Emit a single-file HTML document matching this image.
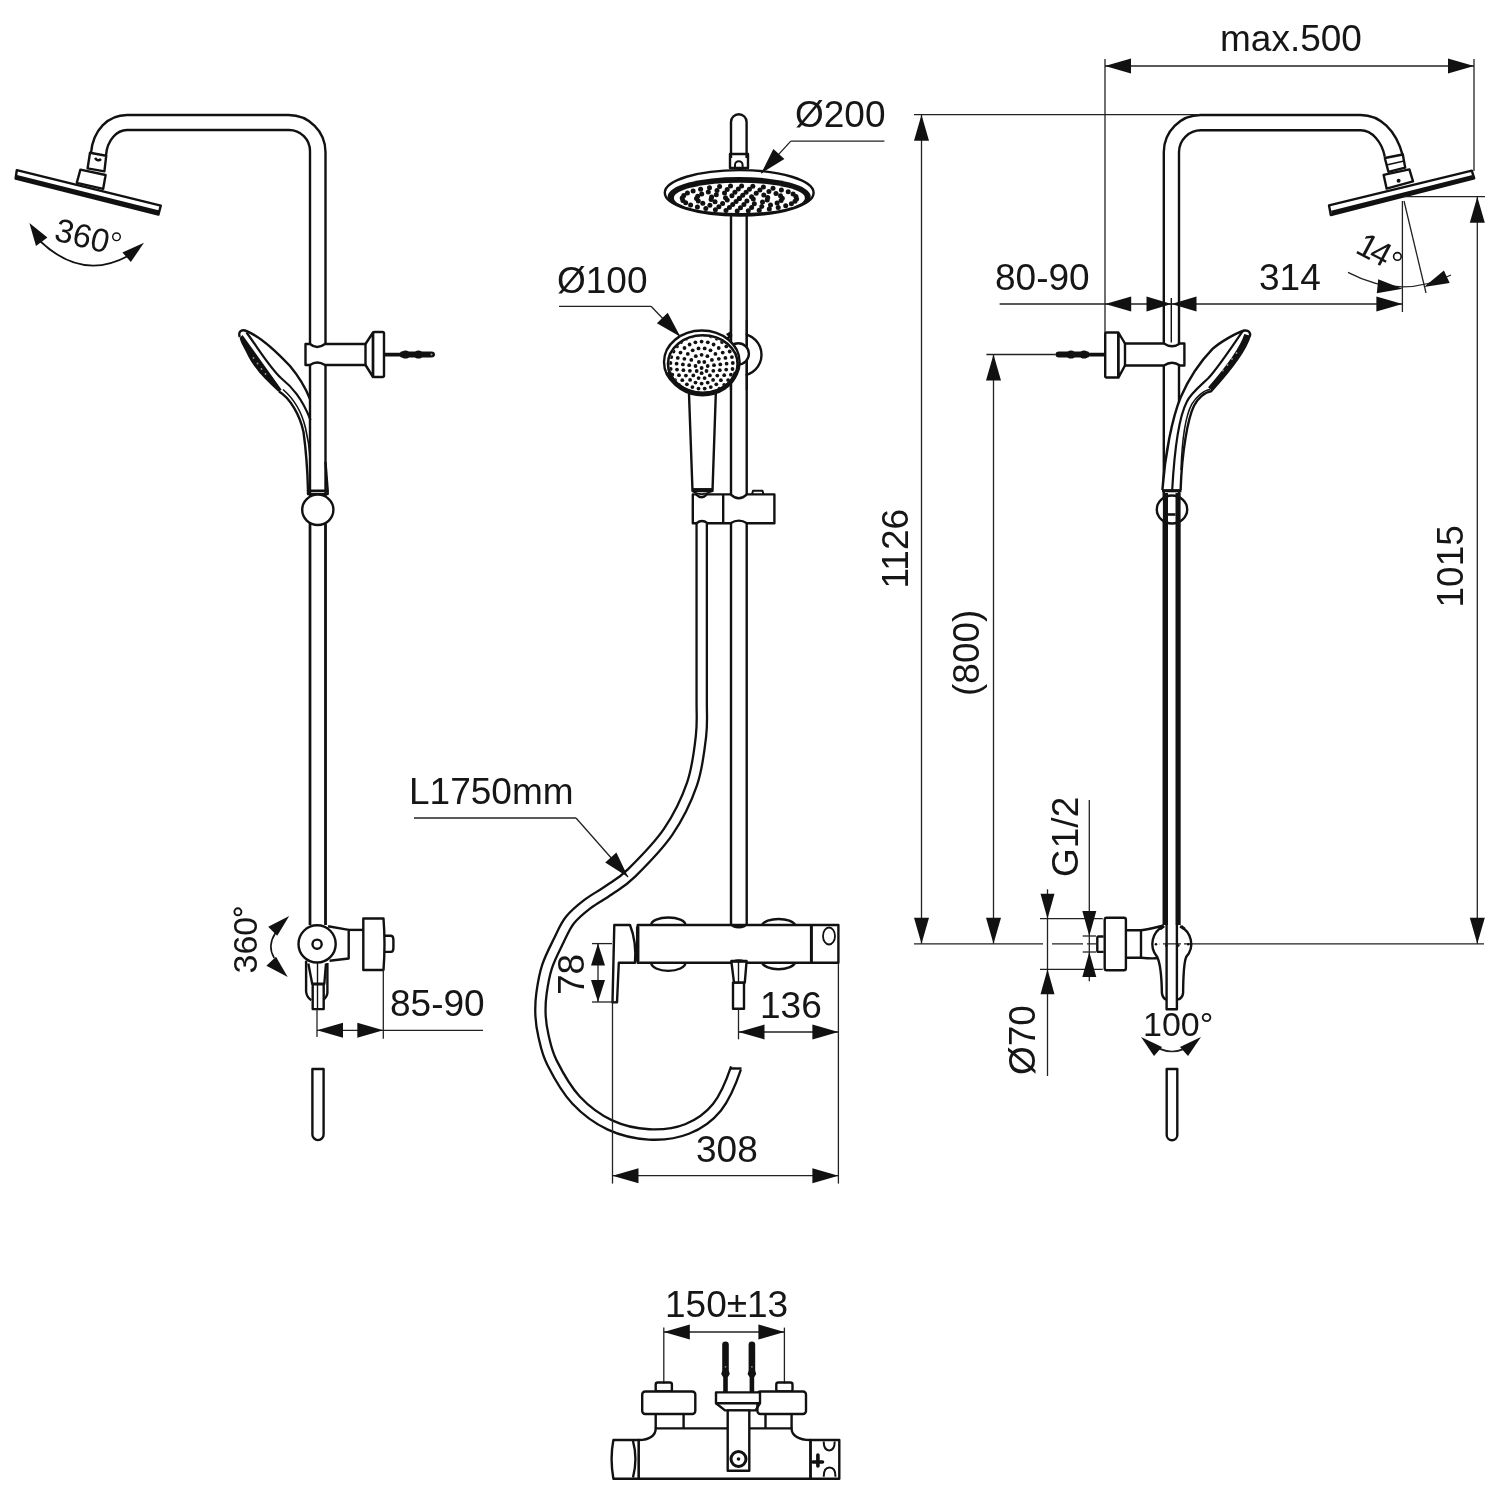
<!DOCTYPE html>
<html><head><meta charset="utf-8"><style>
html,body{margin:0;padding:0;background:#fff;}
svg{display:block;will-change:transform;}
text{font-family:"Liberation Sans",sans-serif;fill:#161616;}
.m{fill:none;stroke:#111;stroke-width:2.4;stroke-linejoin:round;}
.d{fill:none;stroke:#222;stroke-width:1.3;}
.t{fill:none;stroke:#111;stroke-width:1.4;}
.f{fill:#111;stroke:none;}
</style></head><body>
<svg width="1500" height="1500" viewBox="0 0 1500 1500">
<rect width="1500" height="1500" fill="#fff"/>
<path class="m" d="M325.5 925V152A37 37 0 0 0 288.5 115H127C108 115 93 130 91 153"/>
<path class="m" d="M310 925V151A21 21 0 0 0 289 130H127C117 130 107 140 106 155.5"/>
<path class="m" d="M90 152.8L106.2 155.8L104.4 171.4L87.6 168.4Z"/>
<path class="t" d="M95 158Q98 162 101 159" style="stroke-width:2.5"/>
<path class="m" d="M80.4 169.6L105.6 175L103.2 188.8L76.8 182.8Z"/>
<path class="m" d="M16.8 170.2L160.8 205.6L158.4 214.6L15.6 178.6Z" style="fill:#fff"/>
<path class="m" d="M16.5 177L159 212.5" style="stroke-width:4"/>
<text x="53" y="240" font-size="33" transform="rotate(14 53 240)">360</text>
<circle class="t" cx="116.5" cy="236.8" r="3.8"/>
<path class="m" d="M40 241Q82 281 128 256" style="stroke-width:1.8"/>
<path class="f" d="M29.4 223L36 246L47.4 237.4Z"/>
<path class="f" d="M144 242.8L122.4 252.4L130.8 262Z"/>
<path class="f" d="M242.5 335L281.5 389.5L279 392C275 389 266 380 259.3 372.7C254 366 250 361 246 352C243 346 240 341 239.7 337.7Z"/>
<circle cx="253.5" cy="358" r="0.9" fill="#999"/>
<circle cx="257.5" cy="363.5" r="0.9" fill="#999"/>
<circle cx="261.5" cy="369" r="0.9" fill="#999"/>
<circle cx="265.5" cy="374" r="0.9" fill="#999"/>
<path class="m" d="M239.8 337C238 332 241 329.5 245 330.5C258 335 275 350 290 366C300 378 306 389 310 399"/>
<path class="m" d="M246.5 332.5C258 348 270 368 281 378C292 387 302 398 310.5 420" style="stroke-width:2.2"/>
<path class="m" d="M279 391.5C290 398 300 415 303.5 432C306 450 307.5 470 308 491"/>
<path class="t" d="M283 389.5C294 399 302 413 305.5 428C308 438 309.5 447 310.2 460" style="stroke-width:1.6"/>
<path class="m" d="M325.5 462L327.7 490.5"/>
<path class="m" d="M308 490.8H327.7V494H308Z"/>
<ellipse class="m" cx="317.8" cy="509.8" rx="15.6" ry="15.2" style="fill:#fff"/>
<path class="m" d="M310 524.5V925M325.5 524.5V925"/>
<path class="m" d="M305.5 344H310Q317 350 325 344H365.5V365H325Q317 360 310 365H305.5Z" style="fill:#fff"/>
<path class="m" d="M365.5 344L373 332.5V377L365.5 365"/>
<rect class="m" x="373" y="332" width="11" height="45" rx="1.5"/>
<path class="f" d="M384 352.8H400L401 351.6H431.5Q435 351.6 435 354.6Q435 357.6 431.5 357.6H401L400 356.4H384Z"/>
<ellipse class="f" cx="405.5" cy="354.6" rx="4.5" ry="4"/><ellipse class="f" cx="418.5" cy="354.6" rx="4.5" ry="4"/>
<circle cx="431.5" cy="354.6" r="1" fill="#999"/>
<path class="m" d="M328.1 926.3L348.7 929.9V958.5L329.6 960.7"/>
<path class="m" d="M348.7 929.9H363.3"/>
<path class="m" d="M363.3 918.5H383.5Q385.5 944 383.5 970H363.3Z"/>
<path class="m" d="M384.6 935.8H391Q393.4 936 393.4 940V948Q393.4 951.9 391 951.9H384.6"/>
<path class="m" d="M306.1 960.7V991.5Q306.5 997 311.3 1000.3M327.4 962.9V993Q327 997 323.7 999.6"/>
<path class="m" d="M308.3 963.5L312.2 983.8H324.3L326 963.5"/>
<rect class="m" x="312.7" y="984.2" width="11" height="24.9"/>
<path class="t" d="M317.5 963V1009"/>
<circle class="m" cx="317.1" cy="943.9" r="18.6" style="fill:#fff"/>
<circle class="m" cx="317.1" cy="944.2" r="4.6"/>
<text x="256.5" y="973.5" font-size="34" text-anchor="start" transform="rotate(-90 256.5 973.5)">360</text>
<circle cx="237.9" cy="911.8" r="3.5" style="fill:none;stroke:#111;stroke-width:1.9"/>
<path class="m" d="M275.4 933Q267 946 274.2 958" style="stroke-width:1.6"/>
<path class="f" d="M289.2 916L268.2 926.8L277.2 935.8Z"/>
<path class="f" d="M287.7 976.9L266.4 965.8L276 956.8Z"/>
<path d="M317 1008.8L317 1037" class="d"/>
<path d="M383.3 969.6L383.3 1038.7" class="d"/>
<path d="M317 1030.3L483 1030.3" class="d"/>
<path d="M317.0 1030.3L343.0 1022.8L343.0 1037.8Z" class="f"/>
<path d="M383.3 1030.3L357.3 1037.8L357.3 1022.8Z" class="f"/>
<text x="390" y="1015.5" font-size="37" text-anchor="start">85-90</text>
<path class="m" d="M312.4 1069H323.6V1134.5A5.6 5.6 0 0 1 312.4 1134.5Z"/>
<path class="m" d="M731 158V122A7.8 7.8 0 0 1 746.6 122V158"/>
<rect class="m" x="730" y="154" width="18" height="14"/>
<path class="m" d="M735 168V165A3.8 3.8 0 0 1 742.6 165V168" style="stroke-width:2"/>
<ellipse class="m" cx="739.2" cy="192.8" rx="74.4" ry="22.7" style="fill:#fff"/>
<ellipse class="f" cx="739.2" cy="196.3" rx="71.5" ry="19.4"/>
<ellipse cx="739.4" cy="197.9" rx="65.5" ry="15.2" fill="#fff"/>
<circle class="f" cx="739.4" cy="198.4" r="2.6"/>
<circle class="f" cx="753.3" cy="199.1" r="2.5"/>
<circle class="f" cx="746.9" cy="201.1" r="2.5"/>
<circle class="f" cx="736.1" cy="201.5" r="2.5"/>
<circle class="f" cx="727.2" cy="200.0" r="2.5"/>
<circle class="f" cx="725.5" cy="197.7" r="2.5"/>
<circle class="f" cx="731.9" cy="195.7" r="2.5"/>
<circle class="f" cx="742.7" cy="195.3" r="2.5"/>
<circle class="f" cx="751.6" cy="196.8" r="2.5"/>
<circle class="f" cx="767.2" cy="199.9" r="2.5"/>
<circle class="f" cx="762.5" cy="202.1" r="2.5"/>
<circle class="f" cx="754.3" cy="203.8" r="2.5"/>
<circle class="f" cx="743.9" cy="204.6" r="2.5"/>
<circle class="f" cx="732.7" cy="204.5" r="2.5"/>
<circle class="f" cx="722.6" cy="203.5" r="2.5"/>
<circle class="f" cx="715.0" cy="201.7" r="2.5"/>
<circle class="f" cx="711.1" cy="199.4" r="2.5"/>
<circle class="f" cx="711.6" cy="196.9" r="2.5"/>
<circle class="f" cx="716.3" cy="194.7" r="2.5"/>
<circle class="f" cx="724.5" cy="193.0" r="2.5"/>
<circle class="f" cx="734.9" cy="192.2" r="2.5"/>
<circle class="f" cx="746.1" cy="192.3" r="2.5"/>
<circle class="f" cx="756.2" cy="193.3" r="2.5"/>
<circle class="f" cx="763.8" cy="195.1" r="2.5"/>
<circle class="f" cx="767.7" cy="197.4" r="2.5"/>
<circle class="f" cx="781.1" cy="200.6" r="2.5"/>
<circle class="f" cx="777.1" cy="202.9" r="2.5"/>
<circle class="f" cx="770.5" cy="204.9" r="2.5"/>
<circle class="f" cx="761.8" cy="206.4" r="2.5"/>
<circle class="f" cx="751.6" cy="207.4" r="2.5"/>
<circle class="f" cx="740.5" cy="207.8" r="2.5"/>
<circle class="f" cx="729.4" cy="207.6" r="2.5"/>
<circle class="f" cx="718.9" cy="206.7" r="2.5"/>
<circle class="f" cx="709.9" cy="205.2" r="2.5"/>
<circle class="f" cx="702.8" cy="203.3" r="2.5"/>
<circle class="f" cx="698.3" cy="201.1" r="2.5"/>
<circle class="f" cx="696.5" cy="198.6" r="2.5"/>
<circle class="f" cx="697.7" cy="196.2" r="2.5"/>
<circle class="f" cx="701.7" cy="193.9" r="2.5"/>
<circle class="f" cx="708.3" cy="191.9" r="2.5"/>
<circle class="f" cx="717.0" cy="190.4" r="2.5"/>
<circle class="f" cx="727.2" cy="189.4" r="2.5"/>
<circle class="f" cx="738.3" cy="189.0" r="2.5"/>
<circle class="f" cx="749.4" cy="189.2" r="2.5"/>
<circle class="f" cx="759.9" cy="190.1" r="2.5"/>
<circle class="f" cx="768.9" cy="191.6" r="2.5"/>
<circle class="f" cx="776.0" cy="193.5" r="2.5"/>
<circle class="f" cx="780.5" cy="195.7" r="2.5"/>
<circle class="f" cx="782.3" cy="198.2" r="2.5"/>
<circle class="f" cx="795.0" cy="201.3" r="2.5"/>
<circle class="f" cx="791.4" cy="203.7" r="2.5"/>
<circle class="f" cx="785.7" cy="205.8" r="2.5"/>
<circle class="f" cx="778.2" cy="207.6" r="2.5"/>
<circle class="f" cx="769.3" cy="209.1" r="2.5"/>
<circle class="f" cx="759.2" cy="210.2" r="2.5"/>
<circle class="f" cx="748.3" cy="210.8" r="2.5"/>
<circle class="f" cx="737.2" cy="210.9" r="2.5"/>
<circle class="f" cx="726.0" cy="210.6" r="2.5"/>
<circle class="f" cx="715.4" cy="209.8" r="2.5"/>
<circle class="f" cx="705.8" cy="208.6" r="2.5"/>
<circle class="f" cx="697.4" cy="206.9" r="2.5"/>
<circle class="f" cx="690.6" cy="205.0" r="2.5"/>
<circle class="f" cx="685.7" cy="202.7" r="2.5"/>
<circle class="f" cx="682.9" cy="200.4" r="2.5"/>
<circle class="f" cx="682.2" cy="197.9" r="2.5"/>
<circle class="f" cx="683.8" cy="195.5" r="2.5"/>
<circle class="f" cx="687.4" cy="193.1" r="2.5"/>
<circle class="f" cx="693.1" cy="191.0" r="2.5"/>
<circle class="f" cx="700.6" cy="189.2" r="2.5"/>
<circle class="f" cx="709.5" cy="187.7" r="2.5"/>
<circle class="f" cx="719.6" cy="186.6" r="2.5"/>
<circle class="f" cx="730.5" cy="186.0" r="2.5"/>
<circle class="f" cx="741.6" cy="185.9" r="2.5"/>
<circle class="f" cx="752.8" cy="186.2" r="2.5"/>
<circle class="f" cx="763.4" cy="187.0" r="2.5"/>
<circle class="f" cx="773.0" cy="188.2" r="2.5"/>
<circle class="f" cx="781.4" cy="189.9" r="2.5"/>
<circle class="f" cx="788.2" cy="191.8" r="2.5"/>
<circle class="f" cx="793.1" cy="194.1" r="2.5"/>
<circle class="f" cx="795.9" cy="196.4" r="2.5"/>
<circle class="f" cx="796.6" cy="198.9" r="2.5"/>
<path class="m" d="M731 214.5V926M746.7 214.5V926"/>
<circle class="m" cx="740.5" cy="354.7" r="21"/>
<rect x="732.2" y="320" width="13.3" height="70" fill="#fff"/>
<path class="m" d="M731 320V390M746.7 320V390"/>
<circle class="m" cx="738.3" cy="353.8" r="10.6" style="fill:#fff"/>
<path class="f" d="M726 334L731 331V340Z"/>
<path class="m" d="M689 394L692.5 491H712.5L715.8 394" style="fill:#fff"/>
<path d="M692.5 489.8H712.5" style="stroke:#111;stroke-width:3.5"/>
<ellipse class="m" cx="701.8" cy="362" rx="37.8" ry="31.5" style="fill:#fff"/>
<ellipse class="m" cx="702.8" cy="364" rx="34.8" ry="28.8" style="stroke-width:2.6"/>
<path d="M669 372A34.3 28.3 0 0 0 736 372" style="fill:none;stroke:#111;stroke-width:4.5"/>
<defs><clipPath id="hp"><ellipse cx="702.8" cy="364" rx="33.5" ry="27.5"/></clipPath></defs>
<g clip-path="url(#hp)">
<circle class="f" cx="701.6" cy="368" r="1.95"/>
<circle class="f" cx="704.3" cy="362.0" r="1.9"/>
<circle class="f" cx="707.7" cy="366.0" r="1.9"/>
<circle class="f" cx="706.5" cy="371.0" r="1.9"/>
<circle class="f" cx="701.6" cy="373.2" r="1.9"/>
<circle class="f" cx="696.7" cy="371.0" r="1.9"/>
<circle class="f" cx="695.5" cy="366.0" r="1.9"/>
<circle class="f" cx="698.9" cy="362.0" r="1.9"/>
<circle class="f" cx="701.6" cy="354.8" r="1.9"/>
<circle class="f" cx="707.4" cy="356.2" r="1.9"/>
<circle class="f" cx="711.9" cy="359.9" r="1.9"/>
<circle class="f" cx="714.0" cy="365.2" r="1.9"/>
<circle class="f" cx="713.3" cy="370.8" r="1.9"/>
<circle class="f" cx="709.9" cy="375.4" r="1.9"/>
<circle class="f" cx="704.6" cy="378.1" r="1.9"/>
<circle class="f" cx="698.6" cy="378.1" r="1.9"/>
<circle class="f" cx="693.3" cy="375.4" r="1.9"/>
<circle class="f" cx="689.9" cy="370.8" r="1.9"/>
<circle class="f" cx="689.2" cy="365.2" r="1.9"/>
<circle class="f" cx="691.3" cy="359.9" r="1.9"/>
<circle class="f" cx="695.8" cy="356.2" r="1.9"/>
<circle class="f" cx="704.7" cy="348.4" r="1.9"/>
<circle class="f" cx="710.5" cy="350.3" r="1.9"/>
<circle class="f" cx="715.4" cy="353.9" r="1.9"/>
<circle class="f" cx="718.8" cy="358.8" r="1.9"/>
<circle class="f" cx="720.3" cy="364.4" r="1.9"/>
<circle class="f" cx="719.8" cy="370.2" r="1.9"/>
<circle class="f" cx="717.3" cy="375.6" r="1.9"/>
<circle class="f" cx="713.1" cy="379.9" r="1.9"/>
<circle class="f" cx="707.7" cy="382.6" r="1.9"/>
<circle class="f" cx="701.6" cy="383.6" r="1.9"/>
<circle class="f" cx="695.5" cy="382.6" r="1.9"/>
<circle class="f" cx="690.1" cy="379.9" r="1.9"/>
<circle class="f" cx="685.9" cy="375.6" r="1.9"/>
<circle class="f" cx="683.4" cy="370.2" r="1.9"/>
<circle class="f" cx="682.9" cy="364.4" r="1.9"/>
<circle class="f" cx="684.4" cy="358.8" r="1.9"/>
<circle class="f" cx="687.8" cy="353.9" r="1.9"/>
<circle class="f" cx="692.7" cy="350.3" r="1.9"/>
<circle class="f" cx="698.5" cy="348.4" r="1.9"/>
<circle class="f" cx="701.6" cy="341.6" r="1.9"/>
<circle class="f" cx="707.8" cy="342.3" r="1.9"/>
<circle class="f" cx="713.6" cy="344.5" r="1.9"/>
<circle class="f" cx="718.7" cy="348.0" r="1.9"/>
<circle class="f" cx="722.7" cy="352.6" r="1.9"/>
<circle class="f" cx="725.4" cy="357.9" r="1.9"/>
<circle class="f" cx="726.6" cy="363.7" r="1.9"/>
<circle class="f" cx="726.2" cy="369.6" r="1.9"/>
<circle class="f" cx="724.2" cy="375.2" r="1.9"/>
<circle class="f" cx="720.9" cy="380.2" r="1.9"/>
<circle class="f" cx="716.3" cy="384.3" r="1.9"/>
<circle class="f" cx="710.8" cy="387.1" r="1.9"/>
<circle class="f" cx="704.7" cy="388.6" r="1.9"/>
<circle class="f" cx="698.5" cy="388.6" r="1.9"/>
<circle class="f" cx="692.4" cy="387.1" r="1.9"/>
<circle class="f" cx="686.9" cy="384.3" r="1.9"/>
<circle class="f" cx="682.3" cy="380.2" r="1.9"/>
<circle class="f" cx="679.0" cy="375.2" r="1.9"/>
<circle class="f" cx="677.0" cy="369.6" r="1.9"/>
<circle class="f" cx="676.6" cy="363.7" r="1.9"/>
<circle class="f" cx="677.8" cy="357.9" r="1.9"/>
<circle class="f" cx="680.5" cy="352.6" r="1.9"/>
<circle class="f" cx="684.5" cy="348.0" r="1.9"/>
<circle class="f" cx="689.6" cy="344.5" r="1.9"/>
<circle class="f" cx="695.4" cy="342.3" r="1.9"/>
<circle class="f" cx="704.8" cy="335.2" r="1.9"/>
<circle class="f" cx="711.0" cy="336.4" r="1.9"/>
<circle class="f" cx="716.8" cy="338.7" r="1.9"/>
<circle class="f" cx="722.0" cy="342.1" r="1.9"/>
<circle class="f" cx="726.3" cy="346.4" r="1.9"/>
<circle class="f" cx="729.7" cy="351.5" r="1.9"/>
<circle class="f" cx="731.9" cy="357.1" r="1.9"/>
<circle class="f" cx="732.8" cy="363.0" r="1.9"/>
<circle class="f" cx="732.5" cy="369.0" r="1.9"/>
<circle class="f" cx="730.9" cy="374.7" r="1.9"/>
<circle class="f" cx="728.1" cy="380.1" r="1.9"/>
<circle class="f" cx="724.2" cy="384.8" r="1.9"/>
<circle class="f" cx="719.5" cy="388.7" r="1.9"/>
<circle class="f" cx="713.9" cy="391.6" r="1.9"/>
<circle class="f" cx="707.9" cy="393.4" r="1.9"/>
<circle class="f" cx="701.6" cy="394.0" r="1.9"/>
<circle class="f" cx="695.3" cy="393.4" r="1.9"/>
<circle class="f" cx="689.3" cy="391.6" r="1.9"/>
<circle class="f" cx="683.7" cy="388.7" r="1.9"/>
<circle class="f" cx="679.0" cy="384.8" r="1.9"/>
<circle class="f" cx="675.1" cy="380.1" r="1.9"/>
<circle class="f" cx="672.3" cy="374.7" r="1.9"/>
<circle class="f" cx="670.7" cy="369.0" r="1.9"/>
<circle class="f" cx="670.4" cy="363.0" r="1.9"/>
<circle class="f" cx="671.3" cy="357.1" r="1.9"/>
<circle class="f" cx="673.5" cy="351.5" r="1.9"/>
<circle class="f" cx="676.9" cy="346.4" r="1.9"/>
<circle class="f" cx="681.2" cy="342.1" r="1.9"/>
<circle class="f" cx="686.4" cy="338.7" r="1.9"/>
<circle class="f" cx="692.2" cy="336.4" r="1.9"/>
<circle class="f" cx="698.4" cy="335.2" r="1.9"/>
</g>
<path d="M701.7 524V700C701.6 716.0 702.6 722.0 701 736C699.4 750.0 697.5 768.0 692 784C686.5 800.0 678.1 817.2 668 832C657.9 846.8 641.3 863.3 631.5 873C621.7 882.7 616.3 884.8 609 890C601.7 895.2 594.0 899.0 587.5 904C581.0 909.0 574.8 914.0 570 920C565.2 926.0 562.8 932.2 559 940C555.2 947.8 549.9 957.8 547 966.7C544.1 975.6 542.6 985.3 541.5 993.3C540.4 1001.3 540.2 1007.6 540.5 1014.7C540.8 1021.8 541.6 1028.0 543.5 1036C545.4 1044.0 546.6 1052.0 552 1062.7C557.4 1073.4 566.3 1089.6 576 1100C585.7 1110.4 597.8 1119.3 610 1125C622.2 1130.7 636.2 1133.7 649 1134.4C661.8 1135.1 675.7 1133.5 687 1129C698.3 1124.5 708.8 1117.4 717 1107.2C725.2 1097.0 732.2 1079.2 736 1068" style="fill:none;stroke:#111;stroke-width:12.6"/>
<path d="M701.7 524V700C701.6 716.0 702.6 722.0 701 736C699.4 750.0 697.5 768.0 692 784C686.5 800.0 678.1 817.2 668 832C657.9 846.8 641.3 863.3 631.5 873C621.7 882.7 616.3 884.8 609 890C601.7 895.2 594.0 899.0 587.5 904C581.0 909.0 574.8 914.0 570 920C565.2 926.0 562.8 932.2 559 940C555.2 947.8 549.9 957.8 547 966.7C544.1 975.6 542.6 985.3 541.5 993.3C540.4 1001.3 540.2 1007.6 540.5 1014.7C540.8 1021.8 541.6 1028.0 543.5 1036C545.4 1044.0 546.6 1052.0 552 1062.7C557.4 1073.4 566.3 1089.6 576 1100C585.7 1110.4 597.8 1119.3 610 1125C622.2 1130.7 636.2 1133.7 649 1134.4C661.8 1135.1 675.7 1133.5 687 1129C698.3 1124.5 708.8 1117.4 717 1107.2C725.2 1097.0 732.2 1079.2 736 1068" style="fill:none;stroke:#fff;stroke-width:8"/>
<path class="m" d="M731 1068.5H741.5"/>
<path class="m" d="M692.8 494.4H696Q701.5 500 707 494.4H730.5Q738.8 502 747 494.4H774.4V523.2H747Q738.8 518 730.5 523.2H707.5Q702 519 696.5 523.2H692.8Z" style="fill:#fff"/>
<path d="M723.2 494.4L723.2 523.2" class="m"/>
<path class="m" d="M752 494.4L753 490.8H762.5L763.5 494.4" style="stroke-width:2"/>
<path d="M693 491.5Q701.5 497 711 491.5" style="fill:none;stroke:#111;stroke-width:2"/>
<path class="m" d="M651.2 925A17 7.5 0 0 1 685.4 925M761.9 925A17 7.5 0 0 1 795.2 925"/>
<path class="m" d="M651.2 962.8A17 8 0 0 0 685.4 962.8M761.9 962.8A17 8 0 0 0 795.2 962.8"/>
<path class="m" d="M637.7 925H838.4V962.8H637.7Z" style="fill:#fff"/>
<path class="f" d="M731 925A7.8 3.6 0 0 0 746.6 925Z"/>
<path class="m" d="M637.7 926.5V961.5" style="stroke-width:3.5"/>
<path class="m" d="M811.4 925V962.8" style="stroke-width:3"/>
<ellipse class="m" cx="829" cy="936" rx="6" ry="8.5" style="stroke-width:1.8"/>
<path class="m" d="M614.3 925H630C634 935 636 950 635 962.8H618.8L617 1002.4H612.5Z" style="fill:#fff"/>
<path class="m" d="M731.3 961H746.6L744.8 982.6H734Z" style="fill:#fff"/>
<path class="f" d="M731 962.8A7.8 3.6 0 0 1 746.6 962.8Z"/>
<rect class="m" x="733" y="982.6" width="11" height="26.1"/>
<path d="M738.5 961L738.5 982.6" class="t"/>
<path d="M592 943.6L612 943.6" class="d"/>
<path d="M592 1002L617 1002" class="d"/>
<path d="M598 944L598 1002" class="d"/>
<path d="M598.0 943.6L605.0 965.6L591.0 965.6Z" class="f"/>
<path d="M598.0 1002.0L591.0 980.0L605.0 980.0Z" class="f"/>
<text x="584" y="995" font-size="37" text-anchor="start" transform="rotate(-90 584 995)">78</text>
<path d="M738.5 1008.7L738.5 1039.3" class="d"/>
<path d="M738.5 1032L838.4 1032" class="d"/>
<path d="M738.5 1032.0L764.5 1024.5L764.5 1039.5Z" class="f"/>
<path d="M838.4 1032.0L812.4 1039.5L812.4 1024.5Z" class="f"/>
<text x="760" y="1017.5" font-size="37" text-anchor="start">136</text>
<path d="M612.5 1002L612.5 1183.6" class="d"/>
<path d="M838.4 962.8L838.4 1183.6" class="d"/>
<path d="M612.5 1175.7L838.4 1175.7" class="d"/>
<path d="M612.5 1175.7L638.5 1168.2L638.5 1183.2Z" class="f"/>
<path d="M838.4 1175.7L812.4 1183.2L812.4 1168.2Z" class="f"/>
<text x="696" y="1161.5" font-size="37" text-anchor="start">308</text>
<path d="M414 818L576 818" class="d"/>
<path d="M576 818L628 877" class="d"/>
<path d="M628.0 877.0L605.2 862.5L616.4 852.5Z" class="f"/>
<text x="409" y="803.5" font-size="37" text-anchor="start">L1750mm</text>
<path d="M790.8 141.1L884.4 141.1" class="d"/>
<path d="M790.8 141.1L761.3 173.2" class="d"/>
<path d="M761.3 173.2L773.4 149.0L784.4 159.1Z" class="f"/>
<text x="795" y="126.8" font-size="37" text-anchor="start">Ø200</text>
<path d="M559 306.3L651 306.3" class="d"/>
<path d="M651 306.3L680.4 336.7" class="d"/>
<path d="M680.4 336.7L656.9 323.2L667.7 312.8Z" class="f"/>
<text x="557" y="292.5" font-size="37" text-anchor="start">Ø100</text>
<path class="m" d="M1163.8 925V152A37 37 0 0 1 1200.8 115H1360.6C1380 115 1396 130 1402.8 155.6"/>
<path class="m" d="M1179 925V152A22 22 0 0 1 1201 130.3H1360.6C1372 130.3 1382 142 1384.8 156.8"/>
<path class="m" d="M1384.8 158L1402.8 154.5L1405.2 167.6L1388.4 171.8Z"/>
<path class="m" d="M1386.5 165L1404 161" style="stroke-width:1.6"/>
<path class="m" d="M1383.6 174.8L1409.4 169.4L1413 181.4L1386.6 188.6Z" style="fill:#fff"/>
<circle class="f" cx="1398.6" cy="180.8" r="2"/>
<path class="m" d="M1329 205.4L1471.8 170.6L1474.2 178.4L1330.8 215Z" style="fill:#fff"/>
<path class="m" d="M1331.5 212.8L1473 177" style="stroke-width:4"/>
<path d="M1105 59L1105 333" class="d"/>
<path d="M1474 59L1474 171" class="d"/>
<path d="M1105 66L1474 66" class="d"/>
<path d="M1105.0 66.0L1131.0 58.5L1131.0 73.5Z" class="f"/>
<path d="M1474.0 66.0L1448.0 73.5L1448.0 58.5Z" class="f"/>
<text x="1220" y="51" font-size="37" text-anchor="start">max.500</text>
<path d="M914 114.7L1200 114.7" class="d"/>
<path class="d" d="M914 943.8H1043M1052 943.8H1083M1087 943.8H1096M1153 943.8H1160M1163 943.8H1181M1184 943.8H1484"/>
<path d="M921.5 114.7L921.5 943.8" class="d"/>
<path d="M921.5 114.7L929.0 140.7L914.0 140.7Z" class="f"/>
<path d="M921.5 943.8L914.0 917.8L929.0 917.8Z" class="f"/>
<text x="907.5" y="588.5" font-size="37" text-anchor="start" transform="rotate(-90 907.5 588.5)">1126</text>
<path d="M986.4 354.5L1055.7 354.5" class="d"/>
<path d="M993.5 354.5L993.5 943.8" class="d"/>
<path d="M993.5 354.5L1001.0 380.5L986.0 380.5Z" class="f"/>
<path d="M993.5 943.8L986.0 917.8L1001.0 917.8Z" class="f"/>
<text x="979" y="696" font-size="37" text-anchor="start" transform="rotate(-90 979 696)">(800)</text>
<path d="M1404 196.7L1485 196.7" class="d"/>
<path d="M1477.3 196.7L1477.3 943.8" class="d"/>
<path d="M1477.3 196.7L1484.8 222.7L1469.8 222.7Z" class="f"/>
<path d="M1477.3 943.8L1469.8 917.8L1484.8 917.8Z" class="f"/>
<text x="1463" y="607.5" font-size="37" text-anchor="start" transform="rotate(-90 1463 607.5)">1015</text>
<path d="M999.6 304L1402.4 304" class="d"/>
<path d="M1105.2 304.0L1131.2 296.5L1131.2 311.5Z" class="f"/>
<path d="M1171.5 304.0L1146.5 311.5L1146.5 296.5Z" class="f"/>
<path d="M1171.5 304.0L1196.5 296.5L1196.5 311.5Z" class="f"/>
<path d="M1402.4 304.0L1376.4 311.5L1376.4 296.5Z" class="f"/>
<path d="M1171.3 298L1171.3 342.5" class="t"/>
<text x="995" y="290" font-size="37" text-anchor="start">80-90</text>
<text x="1259" y="289.5" font-size="37" text-anchor="start">314</text>
<path d="M1402.4 201L1402.4 312" class="d"/>
<path d="M1404 201L1426 293" class="d"/>
<path class="d" d="M1348 272.4Q1400 300 1451 275"/>
<path d="M1402.4 288.8L1376.8 293.3L1378.2 279.3Z" class="f"/>
<path d="M1424.0 287.0L1443.9 270.4L1449.7 283.1Z" class="f"/>
<text x="1354" y="252" font-size="34" letter-spacing="-4" transform="rotate(28 1354 252)">14</text>
<circle class="t" cx="1397.4" cy="256.4" r="3.8" style="stroke-width:1.6"/>
<path class="m" d="M1184.4 343.5H1180Q1172 349 1164 343.5H1125V365.5H1164Q1172 360 1180 365.5H1184.4Z" style="fill:#fff"/>
<path class="m" d="M1125 343.5L1118.4 332.5V377.6L1125 365.5"/>
<rect class="m" x="1105.2" y="332.5" width="13" height="45" rx="1.5"/>
<path class="f" d="M1105.2 352.8H1089.2L1088.2 351.6H1059Q1055.5 351.6 1055.5 354.6Q1055.5 357.6 1059 357.6H1088.2L1089.2 356.4H1105.2Z"/>
<ellipse class="f" cx="1084" cy="354.6" rx="4.5" ry="4"/><ellipse class="f" cx="1071" cy="354.6" rx="4.5" ry="4"/>
<path d="M1244.2 330.5C1236 333 1220 342 1212.3 349.2C1200 362 1190 376 1180.8 396.9C1172 418 1165 455 1162.4 490H1180.6C1182 450 1188 418 1194 405.7C1198 398 1205 392 1210.9 391.4C1225 376 1245 352 1249.7 336Z" fill="#fff"/>
<path d="M1246.8 334.8C1242 350 1224 373 1210 389" style="fill:none;stroke:#111;stroke-width:5.2"/>
<circle cx="1236.5" cy="353" r="0.9" fill="#999"/>
<circle cx="1232" cy="359" r="0.9" fill="#999"/>
<circle cx="1227.5" cy="365" r="0.9" fill="#999"/>
<circle cx="1223" cy="370.5" r="0.9" fill="#999"/>
<path class="m" d="M1249.8 336.5C1251 333 1249 330 1244.2 330.5C1236 333 1220 342 1212.3 349.2C1200 362 1190 376 1180.8 396.9C1172 418 1165 455 1162.4 490"/>
<path class="m" d="M1242.4 331.6C1235 342 1220 365 1208.7 377.8C1200 386 1190 394 1186.7 402C1180 415 1175 440 1172.2 490" style="stroke-width:2.2"/>
<path class="m" d="M1249.7 336C1245 352 1225 376 1210.9 391.4C1205 392 1198 398 1194 405.7C1188 418 1182 450 1180.6 490"/>
<path class="t" d="M1210 389.5C1204 390 1196 397 1191.8 404.2C1186 415 1182 440 1181 470" style="stroke-width:1.5"/>
<path d="M1162 490.7H1181.5" style="stroke:#111;stroke-width:3.2"/>
<ellipse class="m" cx="1172" cy="509.5" rx="15.2" ry="14" style="fill:#fff"/>
<path class="f" d="M1162.9 493H1168V925H1162.9ZM1175.5 493H1180.6V925H1175.5Z"/>
<path d="M1168 514.5H1175.5" style="stroke:#111;stroke-width:2.6"/>
<path d="M1163.6 926.3A19.4 19.4 0 1 0 1186.2 956.9C1184 962 1183.3 970 1183.1 993Q1182.5 998 1178 999.6H1166.3Q1162.5 998 1161.9 993C1161.5 970 1160 962 1156.9 956.4Z" fill="#fff"/>
<path class="m" d="M1126 930.3H1141C1150 929 1157 927 1163.6 925.5M1126 957.8H1141C1150 958.5 1155 958.5 1158 958"/>
<path d="M1141 930.3L1141 957.8" class="m"/>
<rect class="m" x="1104.7" y="917.8" width="21.2" height="52.5" rx="2"/>
<path class="m" d="M1103.6 936.5H1098.5Q1097.3 936.5 1097.3 938V950.5Q1097.3 951.9 1098.5 951.9H1103.6"/>
<path class="m" d="M1163.6 926.3A19.4 19.4 0 0 0 1156.9 956.4C1160 962 1161.5 970 1161.9 993Q1162.5 998 1166.3 999.6"/>
<path class="m" d="M1180 926.3A19.4 19.4 0 0 1 1186.2 956.9C1184 962 1183.3 970 1183.1 993Q1182.5 998 1178 999.6"/>
<path class="m" d="M1166.6 925V1009.3H1176.9V925"/>
<path class="m" d="M1164 926Q1163 927 1160 929M1181 926Q1182 927 1184.5 929" style="stroke-width:3"/>
<circle class="f" cx="1156" cy="944.2" r="1.3"/>
<circle class="f" cx="1166.3" cy="945.5" r="1.3"/>
<circle class="f" cx="1178.3" cy="945.5" r="1.3"/>
<circle class="f" cx="1188.3" cy="944.2" r="1.3"/>
<path d="M1040 918.7L1102.7 918.7" class="d"/>
<path d="M1040 969.3L1102.7 969.3" class="d"/>
<path d="M1082.7 936L1096 936" class="d"/>
<path d="M1082.7 952L1096 952" class="d"/>
<path d="M1047.5 889.3L1047.5 1076" class="d"/>
<path d="M1047.5 918.7L1040.5 893.7L1054.5 893.7Z" class="f"/>
<path d="M1047.5 969.3L1054.5 994.3L1040.5 994.3Z" class="f"/>
<path d="M1089.3 800L1089.3 981.3" class="d"/>
<path d="M1089.3 936.0L1082.3 911.0L1096.3 911.0Z" class="f"/>
<path d="M1089.3 952.0L1096.3 977.0L1082.3 977.0Z" class="f"/>
<text x="1077.5" y="877" font-size="37" text-anchor="start" transform="rotate(-90 1077.5 877)">G1/2</text>
<text x="1034.7" y="1075" font-size="37" text-anchor="start" transform="rotate(-90 1034.7 1075)">Ø70</text>
<text x="1143" y="1036" font-size="34" text-anchor="start">100°</text>
<path class="d" d="M1150 1043Q1172 1060 1194 1043" style="stroke-width:1.6"/>
<path class="f" d="M1141 1037L1154 1056L1162 1047Z"/>
<path class="f" d="M1201 1037L1188 1056L1180 1047Z"/>
<path class="m" d="M1166.7 1069H1177.3V1135A5.3 5.3 0 0 1 1166.7 1135Z"/>
<path d="M663.8 1327.6L663.8 1383.4" class="d"/>
<path d="M784.4 1327.6L784.4 1383.4" class="d"/>
<path d="M663.8 1332L784.4 1332" class="d"/>
<path d="M663.8 1332.0L689.8 1324.5L689.8 1339.5Z" class="f"/>
<path d="M784.4 1332.0L758.4 1339.5L758.4 1324.5Z" class="f"/>
<text x="665" y="1316.5" font-size="37" text-anchor="start">150±13</text>
<rect class="m" x="655.7" y="1382.5" width="16.2" height="9" rx="2"/>
<rect class="m" x="776.3" y="1382.5" width="16.2" height="9" rx="2"/>
<path class="m" d="M655.7 1414V1428.4M683.6 1414V1428.4M765.5 1414V1428.4M791.6 1414V1428.4"/>
<path class="m" d="M638.6 1440C650 1440 655.7 1435 655.7 1428.4H791.6C791.6 1435 798 1440 810.5 1440V1478.8H638.6Z" style="fill:#fff"/>
<path class="m" d="M613.4 1440H638.6V1478.8H613.4C611 1465 611 1452 613.4 1440Z" style="fill:#fff"/>
<path class="m" d="M633 1441C636 1452 636 1466 633 1477.5"/>
<rect class="m" x="810.5" y="1440" width="28.8" height="38.8"/>
<path class="m" d="M823.7 1441.6Q823.7 1450.4 829.2 1450.4Q834.7 1450.4 834.7 1441.6M823.7 1476.8Q823.7 1467.6 829.6 1467.6Q835.5 1467.6 835.5 1476.8" style="stroke-width:2"/>
<path d="M817.9 1455V1466M813 1462H822.5" style="fill:none;stroke:#111;stroke-width:3.6;stroke-linecap:round"/>
<rect class="m" x="642.2" y="1391.5" width="53.1" height="22.5" rx="3" style="fill:#fff"/>
<rect class="m" x="757.4" y="1391.5" width="48.6" height="22.5" rx="3" style="fill:#fff"/>
<path class="m" d="M716 1392.4H760V1403.2H716Z" style="fill:#fff"/>
<path class="m" d="M716 1403.2L725 1410.4H755.6L760 1403.2"/>
<rect class="m" x="727.7" y="1410.4" width="21.6" height="60.3" style="fill:#fff"/>
<circle class="m" cx="738.5" cy="1459" r="7.5" style="stroke-width:3"/>
<circle class="f" cx="738.5" cy="1459" r="1.8"/>
<path class="f" d="M722.2 1344.8A3.3 3.3 0 0 1 728.8 1344.8V1370.5L729.8 1374L727.8 1377.2V1392H723.2V1377.2L721.2 1374L722.2 1370.5Z"/>
<circle cx="725.5" cy="1366.8" r="0.9" fill="#888"/>
<path class="f" d="M748.6 1344.8A3.3 3.3 0 0 1 755.1999999999999 1344.8V1370.5L756.1999999999999 1374L754.1999999999999 1377.2V1392H749.6V1377.2L747.6 1374L748.6 1370.5Z"/>
<circle cx="751.9" cy="1366.8" r="0.9" fill="#888"/>
</svg></body></html>
